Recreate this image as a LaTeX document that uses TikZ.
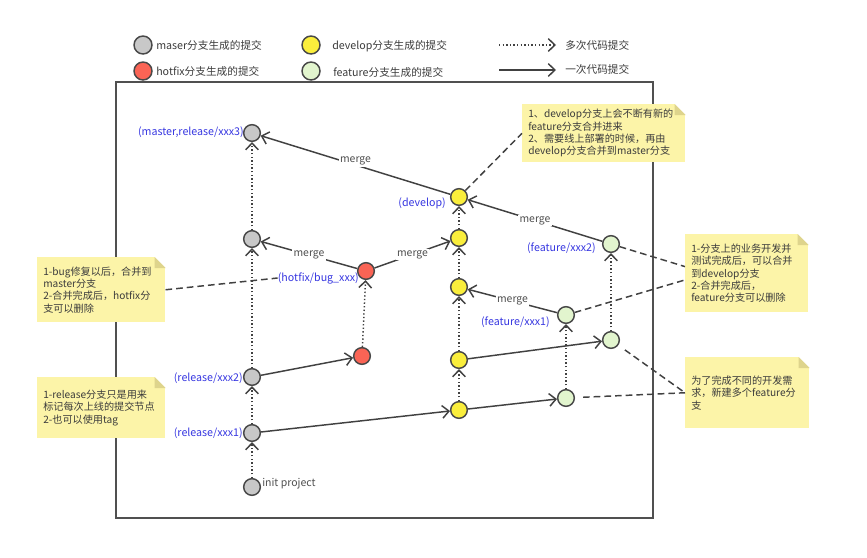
\documentclass[tikz,border=0pt]{standalone}
\usepackage{fontspec}
\setmainfont{Noto Sans CJK SC}
\usetikzlibrary{arrows.meta,calc}
\definecolor{cgray}{RGB}{200,200,200}
\definecolor{cred}{RGB}{250,100,85}
\definecolor{cyel}{RGB}{250,238,60}
\definecolor{cgrn}{RGB}{226,245,206}
\definecolor{outl}{RGB}{72,72,72}
\definecolor{lcol}{RGB}{65,65,65}
\definecolor{lblue}{RGB}{55,55,225}
\definecolor{mgray}{RGB}{80,80,80}
\definecolor{ntext}{RGB}{60,60,60}
\definecolor{notefill}{RGB}{252,244,168}
\definecolor{foldcol}{RGB}{222,212,140}
\definecolor{framecol}{RGB}{80,80,80}
\begin{document}
\begin{tikzpicture}[x=0.75pt,y=-0.75pt,
  commit/.style={circle,draw=outl,line width=1.1pt,minimum size=12.5pt,inner sep=0pt},
  gc/.style={commit,fill=cgray},
  rc/.style={commit,fill=cred},
  yc/.style={commit,fill=cyel},
  fc/.style={commit,fill=cgrn},
  legc/.style={commit,minimum size=13.5pt},
  legtxt/.style={anchor=west,text=ntext,font=\fontsize{8}{10}\selectfont,inner sep=0pt},
  lbl/.style={anchor=east,text=lblue,font=\fontsize{8}{9}\selectfont,inner sep=0pt},
  mergelbl/.style={fill=white,text=mgray,font=\fontsize{7.8}{9}\selectfont,inner sep=1pt},
  tipbarb/.style={-{Straight Barb[length=5pt,width=9.5pt]}},
  one/.style={draw=lcol,line width=1.1pt,tipbarb},
  many/.style={draw=lcol,line width=1.1pt,dash pattern=on 1pt off 1.7pt,tipbarb},
  dashln/.style={draw=lcol,line width=1.1pt,dash pattern=on 5pt off 3pt},
  note/.style={fill=notefill,anchor=north west,align=left,text=ntext,
    font=\fontsize{7.6}{9.3}\selectfont,inner xsep=4.5pt,inner ysep=2pt}
]
\useasboundingbox (0,0) rectangle (867,557);
\fill[white] (0,0) rectangle (867,557);

% frame
\draw[framecol,line width=1.5pt] (116,82) rectangle (653,518);

% legend
\node[legc,fill=cgray] (lg1) at (143,45) {};
\node[legtxt] (lt1) at (156,45) {maser分支生成的提交};
\node[legc,fill=cred] (lg2) at (143,71) {};
\node[legtxt] (lt2) at (156,71) {hotfix分支生成的提交};
\node[legc,fill=cyel] (lg3) at (311,45) {};
\node[legtxt] (lt3) at (332,46) {develop分支生成的提交};
\node[legc,fill=cgrn] (lg4) at (311,71) {};
\node[legtxt] (lt4) at (333,72) {feature分支生成的提交};
\coordinate (la1) at (499,45);
\coordinate (lb1) at (556,45);
\coordinate (la2) at (499,70);
\coordinate (lb2) at (556,70);
\draw[many] (la1) -- (lb1);
\draw[one] (la2) -- (lb2);
\node[legtxt] (lt5) at (565,45) {多次代码提交};
\node[legtxt] (lt6) at (565,69) {一次代码提交};

% notes
\node[note,text width=113.25pt,minimum height=43.5pt] (ntop) at (522,104)
  {1、develop分支上会不断有新的\\feature分支合并进来\\2、需要线上部署的时候，再由\\develop分支合并到master分支};
\node[note,text width=87pt,minimum height=48.75pt] (nhot) at (37,257)
  {1-bug修复以后，合并到\\master分支\\2-合并完成后，hotfix分\\支可以删除};
\node[note,text width=83.25pt,minimum height=58.5pt] (nfeat) at (685,234)
  {1-分支上的业务开发并\\测试完成后，可以合并\\到develop分支\\2-合并完成后，\\feature分支可以删除};
\node[note,text width=87pt,minimum height=45.75pt] (nrel) at (37,377)
  {1-release分支只是用来\\标记每次上线的提交节点\\2-也可以使用tag};
\node[note,text width=84pt,minimum height=53.25pt] (nnew) at (685,357)
  {为了完成不同的开发需\\求，新建多个feature分\\支};
\foreach \n in {ntop,nhot,nfeat,nrel,nnew}{
  \fill[white] (\n.north east) -- ($(\n.north east)+(-11,0)$) -- ($(\n.north east)+(0,11)$) -- cycle;
  \fill[foldcol] ($(\n.north east)+(-11,0)$) -- ($(\n.north east)+(0,11)$) -- ($(\n.north east)+(-11,11)$) -- cycle;
}

% commits
\node[gc] (m0) at (252,487) {};
\node[gc] (m1) at (252,433) {};
\node[gc] (m2) at (252,377) {};
\node[gc] (m3) at (252,239) {};
\node[gc] (m4) at (252,133) {};
\node[rc] (h1) at (362,356) {};
\node[rc] (h2) at (366,271) {};
\node[yc] (d1) at (459,410) {};
\node[yc] (d2) at (459,360) {};
\node[yc] (d3) at (459,287) {};
\node[yc] (d4) at (459,238) {};
\node[yc] (d5) at (459,197) {};
\node[fc] (f1a) at (566,398) {};
\node[fc] (f1b) at (566,315) {};
\node[fc] (f2a) at (611,340) {};
\node[fc] (f2b) at (611,244) {};

% labels
\node[lbl] (lm4) at (244,132) {(master,release/xxx3)};
\node[lbl] (ld5) at (446,203) {(develop)};
\node[lbl] (lf2) at (596,248) {(feature/xxx2)};
\node[lbl] (lh2) at (359,278) {(hotfix/bug\_xxx)};
\node[lbl] (lf1) at (550,322) {(feature/xxx1)};
\node[lbl] (lm2) at (243,378) {(release/xxx2)};
\node[lbl] (lm1) at (243,433) {(release/xxx1)};
\node[anchor=west,text=mgray,font=\fontsize{7.9}{9}\selectfont,inner sep=0pt] (lm0) at (262,484) {init project};

% multi-commit (dotted)
\draw[many] (m0) -- (m1);
\draw[many] (m1) -- (m2);
\draw[many] (m2) -- (m3);
\draw[many] (m3) -- (m4);
\draw[many] (h1) -- (h2);
\draw[many] (d1) -- (d2);
\draw[many] (d2) -- (d3);
\draw[many] (d3) -- (d4);
\draw[many] (d4) -- (d5);
\draw[many] (f1a) -- (f1b);
\draw[many] (f2a) -- (f2b);

% single commits
\draw[one] (m2) -- (h1);
\draw[one] (m1) -- (d1);
\draw[one] (d1) -- (f1a);
\draw[one] (d2) -- (f2a);
\draw[one] (h2) -- node[mergelbl] {merge} (m3);
\draw[one] (h2) -- node[mergelbl] {merge} (d4);
\draw[one] (f1b) -- node[mergelbl] {merge} (d3);
\draw[one] (f2b) -- node[mergelbl] {merge} (d5);
\draw[one] (d5) -- node[mergelbl,yshift=3pt] {merge} (m4);

% dashed note connectors
\draw[dashln] (d5) -- (ntop.west);
\draw[dashln] (nhot.east) -- (lh2.west);
\draw[dashln] (f2b) -- ([yshift=5pt]nfeat.west);
\draw[dashln] (f1b) -- ([yshift=-5pt]nfeat.west);
\draw[dashln,shorten <=6pt] (f1a) -- (nnew.west);
\draw[dashln,shorten <=6pt] (f2a) -- (nnew.west);
\end{tikzpicture}
\end{document}
